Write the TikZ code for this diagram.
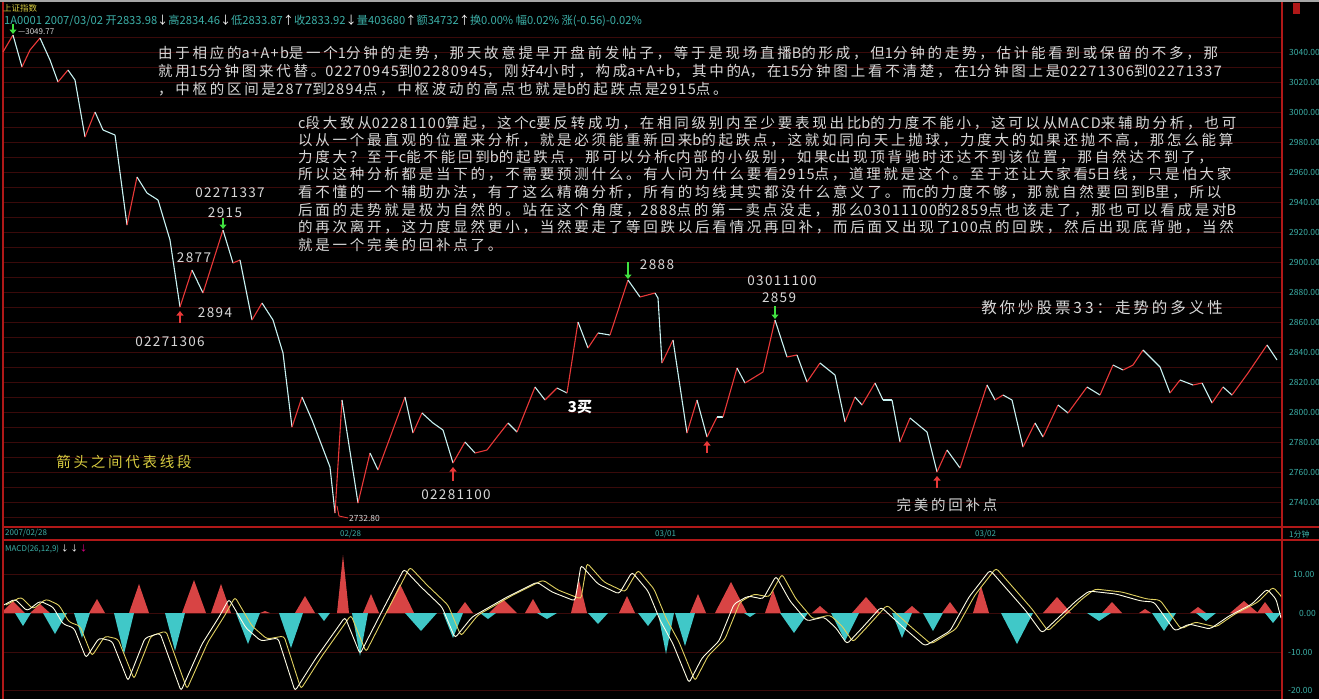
\documentclass[tikz,border=0pt]{standalone}
\usepackage{fontspec}
\setmainfont{Noto Sans CJK SC}
\newfontfamily\cjkls[LetterSpace=19]{Noto Sans CJK SC}
\newfontfamily\labfont[LetterSpace=10]{Noto Sans CJK SC}
\newfontfamily\latinf[LetterSpace=9]{Noto Sans CJK SC}
\newcommand\lt[1]{{\latinf #1}}
\usetikzlibrary{arrows.meta}
\definecolor{txtc}{HTML}{D8D8D8}
\definecolor{gridc}{HTML}{3A0A0A}
\definecolor{axred}{HTML}{B01818}
\definecolor{tealc}{HTML}{3CB0A8}
\definecolor{upc}{HTML}{E83838}
\definecolor{dnc}{HTML}{C8F2F2}
\definecolor{ylw}{HTML}{D8CC40}
\definecolor{hred}{HTML}{D84444}
\definecolor{hcyan}{HTML}{40C8C8}
\definecolor{deac}{HTML}{E0D060}
\definecolor{grnc}{HTML}{40E040}
\begin{document}
\begin{tikzpicture}[x=1pt,y=-1pt,
  body/.style={anchor=base west,inner sep=0,text=txtc,font=\cjkls\fontsize{14.5}{17}\selectfont},
  lab/.style={inner sep=0,text=txtc,font=\labfont\fontsize{13.5}{15}\selectfont},
  info/.style={anchor=west,inner sep=0,text=tealc,font=\fontsize{8}{9}\selectfont},
  axlab/.style={anchor=west,inner sep=0,text=tealc,font=\fontsize{8.5}{9}\selectfont},
  gridline/.style={draw=gridc,line width=0.7},
  redline/.style={draw=axred,line width=1.2},
  dnarrow/.style={draw=grnc,line width=2.2,-{Triangle[length=4.5,width=7]}},
  uparrow/.style={draw=upc,line width=2.2,-{Triangle[length=4.5,width=7]}}]
\fill[black] (0,0) rectangle (1319,699);
\useasboundingbox (0,0) rectangle (1319,699);
\fill[gray!70] (0,0) rectangle (1319,2);
% grid
\foreach \g in {37,52,...,517} \draw[gridline] (4,\g) -- (1281,\g);
\foreach \g in {574,613,652,690} \draw[gridline] (4,\g) -- (1281,\g);
% frame lines
\draw[redline] (3,2) -- (3,699);
\draw[redline] (1282,2) -- (1282,699);
\draw[redline] (3,527) -- (1319,527);
\draw[redline] (3,540) -- (1319,540);
\fill[axred] (1293,3) rectangle (1300,14);
% top info
\node[anchor=west,inner sep=0,text=ylw,font=\fontsize{8.5}{9}\selectfont] (title) at (3,8) {上证指数};
\node[anchor=west,inner sep=0,text=tealc,font=\fontsize{11.2}{12}\selectfont] (info) at (4,21)
  {1A0001 2007/03/02 开2833.98\textcolor{white}{↓}高2834.46\textcolor{white}{↓}低2833.87\textcolor{white}{↑}收2833.92\textcolor{white}{↓}量403680\textcolor{white}{↑}额34732\textcolor{white}{↑}换0.00\% 幅0.02\% 涨(-0.56)-0.02\%};
% right axis
\foreach \p [count=\k from 0] in {3040,3020,3000,2980,2960,2940,2920,2900,2880,2860,2840,2820,2800,2780,2760,2740}
  \node[axlab] (ax\k) at (1289,{52+\k*30}) {\p.00};
\node[axlab] (mac10) at (1293,574) {10.00};
\node[axlab] (mac0) at (1299,613) {0.00};
\node[axlab] (macm10) at (1288,652) {-10.00};
\node[axlab] (macm20) at (1288,690) {-20.00};
% date axis
\node[info] (d1) at (5,533) {2007/02/28};
\node[info] (d2) at (340,534) {02/28};
\node[info] (d3) at (655,534) {03/01};
\node[info] (d4) at (975,534) {03/02};
\node[info] (d5) at (1289,534) {1分钟};
\node[info] (macd) at (5,549) {MACD(26,12,9)\ \textcolor{white}{↓\,↓}\,\textcolor{magenta}{↓}};
% price line
\foreach \x/\y [remember=\x as \px (initially 3), remember=\y as \py (initially 52)] in
 {13/35, 22/67, 30/50, 40/38, 50/60, 58/82, 68/70, 75/80, 85/137, 95/112, 103/130, 115/135,
  127/225, 137/177, 147/193, 158/200, 170/240, 180/307, 192/270, 203/293, 223/230, 233/263,
  240/260, 252/320, 262/303, 273/320, 283/353, 292/427, 302/397, 312/420, 330/467, 335/513,
  342/400, 358/503, 370/453, 378/470, 405/397, 413/433, 422/413, 433/423, 443/430, 453/463,
  465/442, 475/453, 487/450, 497/437, 508/423, 517/432, 535/387, 545/400, 557/388, 567/393,
  578/322, 588/348, 598/333, 610/335, 628/280, 640/297, 655/293, 658/298, 662/363, 673/340,
  687/433, 697/400, 707/437, 717/417, 723/417, 737/368, 745/383, 763/372, 775/320, 787/357,
  797/355, 807/382, 820/363, 835/375, 845/422, 855/397, 862/405, 875/383, 883/400, 892/400,
  900/442, 910/418, 927/432, 937/472, 947/450, 960/468, 987/385, 995/400, 1003/395, 1012/400,
  1023/447, 1035/423, 1043/437, 1058/405, 1068/413, 1087/387, 1100/395, 1113/365, 1123/370,
  1133/365, 1143/350, 1160/367, 1170/393, 1180/380, 1193/385, 1202/383, 1212/403, 1223/387,
  1232/395, 1248/373, 1267/345, 1277/360}
{
  \ifdim \y pt < \py pt \def\lc{upc}\else\def\lc{dnc}\fi
  \draw[draw=\lc,line width=1.1,line join=round] (\px,\py) -- (\x,\y);
}
% markers
\draw[dnarrow] (13,24) -- (13,34);
\draw[dnarrow] (223,218) -- (223,229);
\draw[dnarrow] (628,262) -- (628,279);
\draw[dnarrow] (775,306) -- (775,319);
\draw[uparrow] (180,323) -- (180,311);
\draw[uparrow] (453,481) -- (453,467);
\draw[uparrow] (707,453) -- (707,441);
\draw[uparrow] (937,488) -- (937,476);
% small labels
\node[anchor=west,inner sep=0,text=txtc,font=\fontsize{8}{9}\selectfont] (hi) at (18,32) {—3049.77};
\draw[draw=upc,line width=0.9] (337,506) -- (339,516) -- (348,518);
\node[anchor=west,inner sep=0,text=txtc,font=\fontsize{8.5}{9}\selectfont] (lo) at (349,518) {2732.80};
\node[lab] (l1) at (230,193) {02271337};
\node[lab] (l2) at (225,213) {2915};
\node[lab] (l3) at (194,258) {2877};
\node[lab] (l4) at (215,313) {2894};
\node[lab] (l5) at (170,342) {02271306};
\node[lab] (l6) at (657,265) {2888};
\node[lab] (l7) at (782,281) {03011100};
\node[lab] (l8) at (779,298) {2859};
\node[lab] (l9) at (456,495) {02281100};
\node[inner sep=0,text=white,font=\bfseries\fontsize{15}{16}\selectfont] (l10) at (580,407) {3买};
\node[lab,font=\cjkls\fontsize{14.5}{16}\selectfont] (l11) at (947,505) {完美的回补点};
\node[lab,font=\cjkls\fontsize{15.5}{17}\selectfont] (l12) at (1102,308) {教你炒股票33：走势的多义性};
\node[lab,text=ylw,font=\cjkls\fontsize{14.5}{16}\selectfont] (l13) at (124,462) {箭头之间代表线段};
% text block 1
\node[body] (a1) at (158,58.5) {由于相应的\lt{a+A+b}是一个\lt{1}分钟的走势，那天故意提早开盘前发帖子，等于是现场直播\lt{B}的形成，但\lt{1}分钟的走势，估计能看到或保留的不多，那};
\node[body] (a2) at (158,76.5) {就用\lt{15}分钟图来代替。\lt{02270945}到\lt{02280945}，刚好\lt{4}小时，构成\lt{a+A+b}，其中的\lt{A}，在\lt{15}分钟图上看不清楚，在\lt{1}分钟图上是\lt{02271306}到\lt{02271337}};
\node[body] (a3) at (158,94.5) {，中枢的区间是\lt{2877}到\lt{2894}点，中枢波动的高点也就是\lt{b}的起跌点是\lt{2915}点。};
% text block 2
\node[body] (b1) at (298,128.5) {\lt{c}段大致从\lt{02281100}算起，这个\lt{c}要反转成功，在相同级别内至少要表现出比\lt{b}的力度不能小，这可以从\lt{MACD}来辅助分析，也可};
\node[body] (b2) at (298,145.5) {以从一个最直观的位置来分析，就是必须能重新回来\lt{b}的起跌点，这就如同向天上抛球，力度大的如果还抛不高，那怎么能算};
\node[body] (b3) at (298,162.5) {力度大？至于\lt{c}能不能回到\lt{b}的起跌点，那可以分析\lt{c}内部的小级别，如果\lt{c}出现顶背驰时还达不到该位置，那自然达不到了，};
\node[body] (b4) at (298,179.5) {所以这种分析都是当下的，不需要预测什么。有人问为什么要看\lt{2915}点，道理就是这个。至于还让大家看\lt{5}日线，只是怕大家};
\node[body] (b5) at (298,197.5) {看不懂的一个辅助办法，有了这么精确分析，所有的均线其实都没什么意义了。而\lt{c}的力度不够，那就自然要回到\lt{B}里，所以};
\node[body] (b6) at (298,215.5) {后面的走势就是极为自然的。站在这个角度，\lt{2888}点的第一卖点没走，那么\lt{03011100}的\lt{2859}点也该走了，那也可以看成是对\lt{B}};
\node[body] (b7) at (298,232.5) {的再次离开，这力度显然更小，当然要走了等回跌以后看情况再回补，而后面又出现了\lt{100}点的回跌，然后出现底背驰，当然};
\node[body] (b8) at (298,250.5) {就是一个完美的回补点了。};
% MACD histogram
\begin{scope}
\clip (4,541) rectangle (1281,699);
\foreach \x/\y/\w in {13/601/12, 40/604/10, 97/599/8, 139/584/10, 194/580/12, 221/584/10, 265/611/5,
  305/596/10, 343/555/6, 371/594/8, 400/584/14, 465/602/8, 503/599/14, 533/599/8, 579/580/8,
  627/596/8, 698/594/8, 731/582/16, 773/590/8, 820/606/8, 866/597/14, 912/606/8, 950/602/8,
  981/586/8, 1057/597/14, 1112/602/10, 1145/609/6, 1198/607/8, 1244/601/14, 1265/602/8}
  \fill[hred] ({\x-\w},613) -- (\x,\y) -- ({\x+\w},613) -- cycle;
\foreach \x/\y/\w in {23/626/8, 55/634/12, 82/638/8, 124/654/10, 175/651/10, 248/644/12, 291/648/12,
  324/621/6, 360/656/8, 421/631/16, 453/638/10, 488/619/8, 547/619/10, 598/624/10, 648/626/10,
  666/654/8, 685/646/10, 750/617/6, 794/633/14, 845/641/14, 902/638/10, 933/631/10, 1017/644/16,
  1099/621/12, 1164/631/12, 1206/621/10, 1273/623/8}
  \fill[hcyan] ({\x-\w},613) -- (\x,\y) -- ({\x+\w},613) -- cycle;
\def\difpath{(0,607) -- (15,599) -- (27,611) -- (40,601) -- (53,607) -- (63,624) -- (74,628) -- (86,658) -- (99,638) -- (112,641) -- (128,681) -- (145,638) -- (160,633) -- (181,691) -- (202,644) -- (219,617) -- (229,599) -- (246,628) -- (261,641) -- (278,638) -- (295,691) -- (316,658) -- (333,634) -- (345,617) -- (360,654) -- (379,617) -- (404,569) -- (421,587) -- (442,607) -- (455,638) -- (472,617) -- (507,597) -- (537,582) -- (552,592) -- (575,601) -- (581,565) -- (598,584) -- (619,594) -- (632,572) -- (648,591) -- (660,620) -- (673,644) -- (689,683) -- (702,658) -- (719,641) -- (734,604) -- (748,596) -- (763,599) -- (776,576) -- (790,601) -- (807,621) -- (824,617) -- (836,628) -- (847,644) -- (862,628) -- (881,607) -- (904,628) -- (925,646) -- (950,631) -- (969,597) -- (990,570) -- (1005,587) -- (1026,611) -- (1042,633) -- (1059,617) -- (1076,601) -- (1089,591) -- (1116,594) -- (1141,601) -- (1154,602) -- (1175,631) -- (1189,624) -- (1210,629) -- (1229,616) -- (1252,604) -- (1267,589) -- (1276,599) -- (1281,618)}
\draw[deac,line width=0.9,rounded corners=3,xshift=6pt,yshift=2pt] \difpath;
\draw[white!90!yellow,line width=0.9,rounded corners=3] \difpath;
\end{scope}
\end{tikzpicture}
\end{document}
